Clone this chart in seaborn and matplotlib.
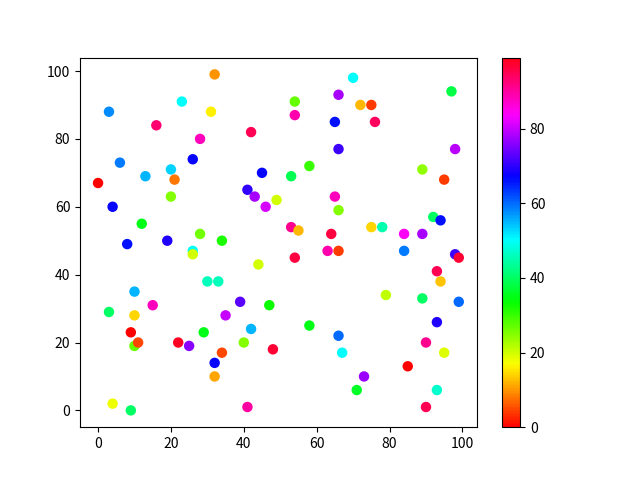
import numpy as np
import pandas as pd
import matplotlib
matplotlib.use('Agg')
import matplotlib.pyplot as plt
import seaborn as sns

# -------------------------------
# DATA
# -------------------------------

x_vals = [32, 23, 3, 31, 16, 28, 6, 26, 13, 20,
          21, 0, 70, 54, 66, 54, 65, 42, 66, 45,
          58, 53, 97, 72, 75, 76, 98, 89, 95, 20,
          4, 12, 28, 34, 8, 19, 26, 26, 30, 33,
          10, 15, 41, 43, 46, 49, 65, 66, 53, 55,
          64, 54, 63, 66, 44, 39, 47, 92, 94, 75,
          78, 84, 89, 84, 98, 99, 93, 94, 79, 89,
          99, 3, 10, 9, 10, 11, 22, 25, 29, 34,
          32, 32, 4, 9, 35, 42, 58, 66, 67, 40,
          48, 41, 93, 90, 95, 85, 73, 71, 93, 90]

y_vals = [99, 91, 88, 88, 84, 80, 73, 74, 69, 71,
          68, 67, 98, 91, 93, 87, 85, 82, 77, 70,
          72, 69, 94, 90, 90, 85, 77, 71, 68, 63,
          60, 55, 52, 50, 49, 50, 47, 46, 38, 38,
          35, 31, 65, 63, 60, 62, 63, 59, 54, 53,
          52, 45, 47, 47, 43, 32, 31, 57, 56, 54,
          54, 52, 52, 47, 46, 45, 41, 38, 34, 33,
          32, 29, 28, 23, 19, 20, 20, 19, 23, 17,
          14, 10, 2, 0, 28, 24, 25, 22, 17, 20,
          18, 1, 26, 20, 17, 13, 10, 6, 6, 1]

c_vals = [10, 50, 58, 16, 93, 88, 59, 67, 55, 53,
          8, 0, 50, 27, 78, 89, 66, 95, 71, 67,
          30, 39, 38, 12, 4, 94, 79, 24, 4, 25,
          67, 35, 26, 32, 66, 69, 50, 20, 46, 46,
          55, 88, 70, 78, 81, 20, 88, 25, 91, 12,
          96, 96, 89, 4, 20, 73, 33, 40, 66, 14,
          45, 84, 78, 59, 71, 97, 95, 13, 21, 40,
          60, 40, 14, 0, 27, 5, 98, 76, 35, 5,
          67, 11, 18, 40, 80, 55, 35, 60, 50, 25,
          97, 90, 69, 91, 19, 0, 77, 36, 47, 95]

df = pd.DataFrame({'x': x_vals, 'y': y_vals, 'c': c_vals})

# font closer to the reference's
plt.rcParams['font.family'] = ['Noto Sans CJK SC', 'DejaVu Sans']

# -------------------------------
# PLOT
# -------------------------------

fig, ax = plt.subplots(figsize=(6.4, 4.8), dpi=100)

sns.scatterplot(
    data=df,
    x='x',
    y='y',
    hue='c',
    palette='hsv',
    hue_norm=(0, 99),
    legend=False,
    s=36,
    linewidth=1.5,
    edgecolor='face',
    ax=ax
)

ax.set_xlabel('')
ax.set_ylabel('')
ax.set_xticks([0, 20, 40, 60, 80, 100])
ax.set_yticks([0, 20, 40, 60, 80, 100])

sm = plt.cm.ScalarMappable(cmap='hsv', norm=plt.Normalize(0, 99))
fig.colorbar(sm, ax=ax)

plt.savefig('out.png')
